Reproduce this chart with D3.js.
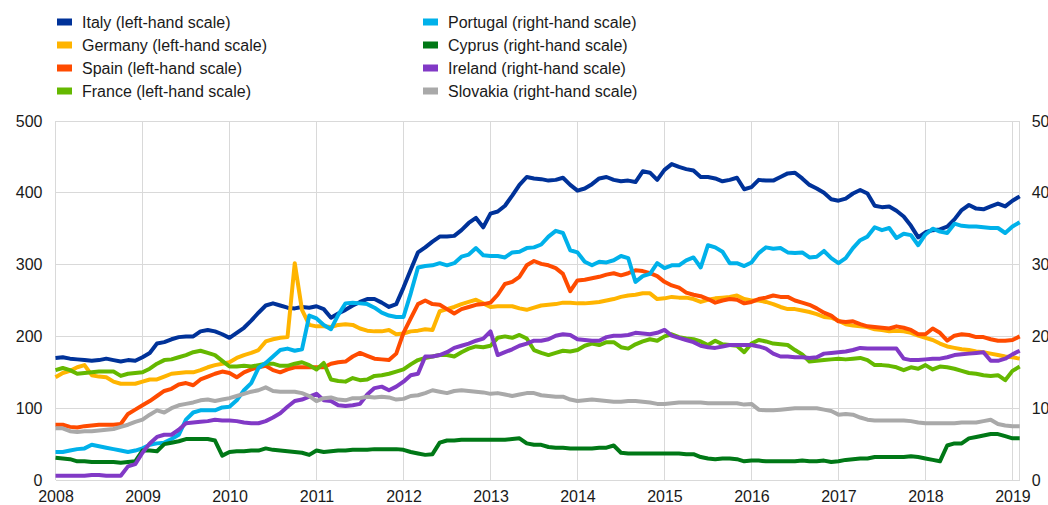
<!DOCTYPE html>
<html>
<head>
<meta charset="utf-8">
<script src="https://cdn.jsdelivr.net/npm/d3@7/dist/d3.min.js"></script>
<style>
  html, body { margin: 0; padding: 0; background: #ffffff; overflow: hidden; }
  svg { display: block; font-family: "Liberation Sans", Arial, sans-serif; }
</style>
</head>
<body>
<svg id="chart" width="1048" height="505"></svg>
<script>
// Monthly observations, January 2008 to February 2019
const startYear = 2008;
const yearTicks = [2008, 2009, 2010, 2011, 2012, 2013, 2014, 2015, 2016, 2017, 2018, 2019];
const leftTicks = [0, 100, 200, 300, 400, 500];
const rightTicks = [0, 10, 20, 30, 40, 50];

// left-hand scale
const italy = [
  170,171,169,168,167,166,167,169,167,165,167,166,
  171,177,190,192,196,199,200,200,207,209,207,203,
  198,205,212,222,233,243,246,243,240,239,241,240,
  242,238,226,232,237,243,248,252,252,247,241,245,
  268,293,317,324,332,339,339,340,348,358,365,352,
  371,374,382,396,411,422,420,419,417,418,421,411,
  403,406,412,420,422,418,416,417,415,430,428,418,
  432,440,436,433,431,422,422,420,416,418,421,405,
  408,418,417,417,422,427,428,420,411,406,400,391,
  389,392,399,404,399,382,380,381,375,367,354,338,
  345,348,349,353,363,376,383,378,377,381,385,381,
  389,395
];
const germany = [
  143,149,152,157,160,146,144,143,137,134,134,134,
  137,140,140,144,148,149,150,150,153,157,160,162,
  164,170,174,177,181,193,196,198,199,302,237,216,
  214,214,213,216,217,216,211,208,207,207,209,203,
  204,207,208,210,209,235,238,241,245,248,251,246,
  241,242,242,242,239,237,240,243,244,245,247,247,
  246,246,247,248,250,252,255,257,258,260,260,252,
  253,255,254,254,252,248,251,253,254,255,257,252,
  250,250,248,245,241,238,238,236,234,231,227,226,
  222,217,215,214,213,210,209,207,208,207,205,201,
  198,195,190,186,184,182,181,179,178,176,174,172,
  171,169
];
const spain = [
  77,77,74,73,75,76,77,77,77,78,92,98,
  104,110,117,124,127,133,135,132,140,144,148,151,
  149,143,150,154,157,159,153,150,154,157,157,157,
  157,157,162,164,165,172,177,173,169,168,167,176,
  205,225,245,250,245,244,238,232,238,241,244,245,
  247,258,273,276,283,299,305,301,299,295,287,263,
  278,279,281,283,286,288,285,288,292,291,288,284,
  276,271,268,261,258,256,252,247,250,252,251,246,
  248,252,254,257,255,255,250,247,244,239,233,229,
  221,220,221,217,214,213,212,211,214,212,209,203,
  203,211,205,194,201,203,202,199,199,196,194,194,
  195,200
];
const france = [
  153,156,153,148,149,150,151,151,151,145,148,149,
  150,155,162,167,168,171,174,178,180,177,174,166,
  158,158,159,158,160,162,162,159,159,162,164,160,
  154,163,140,138,137,142,139,140,145,146,148,151,
  154,161,167,170,172,174,174,172,178,183,186,185,
  187,198,200,198,202,197,181,177,174,177,180,179,
  181,187,190,188,192,192,185,183,189,193,196,194,
  200,203,199,197,196,193,188,194,189,188,187,178,
  190,195,193,190,189,188,181,175,165,166,167,168,
  169,168,169,170,167,160,160,159,157,153,157,155,
  160,154,158,157,155,152,149,148,146,145,146,139,
  152,158
];

// right-hand scale
const portugal = [
  3.9,3.9,4.1,4.3,4.4,4.9,4.7,4.5,4.3,4.1,3.9,4.1,
  4.4,4.9,5.1,5.2,5.7,6.3,8.4,9.4,9.7,9.7,9.7,10.1,
  10.2,11.1,12.5,13.5,15.6,16.3,17.2,18.1,18.3,18.0,18.2,22.9,
  22.5,21.6,21.0,23.0,24.6,24.7,24.6,24.5,24.0,23.3,22.9,22.7,
  22.7,26.0,29.6,29.8,29.9,30.2,29.9,30.2,31.1,31.4,32.3,31.3,
  31.2,31.2,31.0,31.7,31.8,32.3,32.4,32.8,33.9,34.7,34.4,32.0,
  31.7,30.4,29.9,30.4,30.3,30.6,31.2,30.9,27.6,28.4,28.7,30.2,
  29.5,29.9,29.9,30.6,31.0,29.6,32.7,32.4,31.8,30.2,30.2,29.8,
  30.3,31.6,32.4,32.2,32.3,31.7,31.6,31.7,31.0,31.1,31.9,30.9,
  30.2,30.9,32.3,33.4,33.9,35.2,34.8,35.1,33.7,34.3,34.1,32.7,
  34.2,35.0,34.6,34.4,35.7,35.4,35.3,35.3,35.2,35.1,35.1,34.4,
  35.3,35.9
];
const cyprus = [
  3.1,3.0,2.9,2.6,2.6,2.5,2.5,2.5,2.5,2.4,2.5,2.6,
  4.1,4.1,4.0,5.0,5.2,5.4,5.7,5.7,5.7,5.7,5.5,3.4,
  3.9,4.0,4.0,4.1,4.1,4.4,4.2,4.1,4.0,3.9,3.8,3.5,
  4.1,3.9,4.0,4.1,4.1,4.2,4.2,4.2,4.3,4.3,4.3,4.3,
  4.2,3.9,3.7,3.5,3.6,5.2,5.5,5.5,5.6,5.6,5.6,5.6,
  5.6,5.6,5.6,5.7,5.8,5.1,4.9,4.9,4.6,4.5,4.5,4.4,
  4.4,4.4,4.4,4.5,4.5,4.8,3.8,3.7,3.7,3.7,3.7,3.7,
  3.7,3.7,3.7,3.6,3.6,3.2,3.0,2.9,3.0,3.0,2.9,2.6,
  2.7,2.7,2.6,2.6,2.6,2.6,2.6,2.7,2.6,2.6,2.7,2.5,
  2.6,2.8,2.9,3.0,3.0,3.2,3.2,3.2,3.2,3.2,3.3,3.2,
  3.0,2.8,2.6,4.8,5.1,5.1,5.8,6.0,6.2,6.4,6.4,6.1,
  5.8,5.8
];
const ireland = [
  0.6,0.6,0.6,0.6,0.6,0.7,0.7,0.6,0.6,0.6,1.9,2.2,
  3.8,5.1,6.0,6.3,6.3,7.0,7.9,8.0,8.1,8.2,8.4,8.3,
  8.3,8.2,8.0,7.9,7.9,8.2,8.7,9.3,10.2,11.0,11.2,11.6,
  12.0,11.1,11.0,10.4,10.3,10.4,10.6,11.9,12.8,13.0,12.5,13.0,
  13.7,14.6,14.8,17.2,17.2,17.4,17.8,18.4,18.7,19.0,19.4,19.7,
  20.7,17.4,17.8,18.2,18.7,19.0,19.4,19.4,19.6,20.1,20.3,20.2,
  19.6,19.5,19.4,19.4,19.9,20.1,20.1,20.2,20.5,20.4,20.3,20.5,
  20.9,20.1,19.8,19.5,19.2,18.7,18.5,18.4,18.6,18.8,18.8,18.8,
  18.8,18.6,18.3,17.6,17.2,17.2,17.1,17.1,17.0,17.1,17.6,17.7,
  17.8,17.9,18.1,18.4,18.3,18.3,18.3,18.3,18.3,16.9,16.7,16.7,
  16.8,16.9,16.9,17.1,17.4,17.5,17.6,17.7,17.8,16.6,16.6,16.9,
  17.5,18.0
];
const slovakia = [
  7.2,7.2,6.8,6.7,6.8,6.8,6.9,7.0,7.1,7.4,7.7,8.1,
  8.4,9.1,9.7,9.4,10.0,10.4,10.6,10.8,11.1,11.2,11.0,11.2,
  11.4,11.7,12.0,12.3,12.5,12.9,12.4,12.3,12.3,12.3,12.1,11.7,
  11.0,11.4,11.5,11.2,11.1,11.4,11.4,11.6,11.5,11.6,11.5,11.2,
  11.3,11.7,11.8,12.1,12.5,12.3,12.1,12.4,12.5,12.4,12.3,12.2,
  12.0,12.1,11.9,11.7,11.9,12.1,12.1,11.8,11.7,11.6,11.6,11.2,
  11.0,11.1,11.2,11.1,11.0,10.9,10.9,11.0,11.0,10.9,10.8,10.6,
  10.6,10.7,10.8,10.8,10.8,10.8,10.7,10.7,10.7,10.7,10.7,10.5,
  10.6,9.8,9.7,9.7,9.8,9.9,10.0,10.0,10.0,10.0,9.8,9.6,
  9.1,9.2,9.1,8.7,8.4,8.3,8.3,8.3,8.3,8.3,8.2,8.0,
  7.9,7.9,7.9,7.9,7.9,8.0,8.0,8.0,8.2,8.4,7.8,7.6,
  7.5,7.5
];

const series = [
  { name: "Italy (left-hand scale)",      values: italy,    axis: "left",  color: "#003299" },
  { name: "Germany (left-hand scale)",    values: germany,  axis: "left",  color: "#ffb400" },
  { name: "Spain (left-hand scale)",      values: spain,    axis: "left",  color: "#ff4b00" },
  { name: "France (left-hand scale)",     values: france,   axis: "left",  color: "#65b800" },
  { name: "Portugal (right-hand scale)",  values: portugal, axis: "right", color: "#00b1ea" },
  { name: "Cyprus (right-hand scale)",    values: cyprus,   axis: "right", color: "#007816" },
  { name: "Ireland (right-hand scale)",   values: ireland,  axis: "right", color: "#8139c6" },
  { name: "Slovakia (right-hand scale)",  values: slovakia, axis: "right", color: "#a9a9a9" }
];

const svg = d3.select("#chart");
const plot = { left: 55.5, right: 1019.7, top: 121, bottom: 480 };

const x = d3.scaleLinear().domain([startYear, 2019 + 1 / 12]).range([plot.left, plot.right]);
const yLeft = d3.scaleLinear().domain([0, 500]).range([plot.bottom, plot.top]);
const yRight = d3.scaleLinear().domain([0, 50]).range([plot.bottom, plot.top]);

const gridColor = "#d9d9d9";
const textColor = "#1a1a1a";

// gridlines
const grid = svg.append("g").attr("shape-rendering", "crispEdges");
grid.selectAll("line.h").data(leftTicks).join("line")
  .attr("class", "h")
  .attr("x1", plot.left).attr("x2", plot.right)
  .attr("y1", d => yLeft(d)).attr("y2", d => yLeft(d))
  .attr("stroke", gridColor).attr("stroke-width", 1);
grid.selectAll("line.v").data(yearTicks).join("line")
  .attr("class", "v")
  .attr("x1", d => x(d)).attr("x2", d => x(d))
  .attr("y1", plot.top).attr("y2", plot.bottom)
  .attr("stroke", gridColor).attr("stroke-width", 1);
grid.append("line")
  .attr("x1", plot.right).attr("x2", plot.right)
  .attr("y1", plot.top).attr("y2", plot.bottom)
  .attr("stroke", gridColor).attr("stroke-width", 1);

// axes (labels only, lines come from the grid)
const styleAxis = g => {
  g.select(".domain").remove();
  g.selectAll(".tick line").remove();
  g.selectAll(".tick text")
    .attr("fill", textColor)
    .style("font-size", "16px")
    .style("font-family", "'Liberation Sans', Arial, sans-serif");
};

svg.append("g")
  .attr("transform", `translate(${plot.left},0)`)
  .call(d3.axisLeft(yLeft).tickValues(leftTicks).tickFormat(d3.format("d")).tickSize(0).tickPadding(13))
  .call(styleAxis);

svg.append("g")
  .attr("transform", `translate(${plot.right},0)`)
  .call(d3.axisRight(yRight).tickValues(rightTicks).tickFormat(d3.format("d")).tickSize(0).tickPadding(12))
  .call(styleAxis);

svg.append("g")
  .attr("transform", `translate(0,${plot.bottom})`)
  .call(d3.axisBottom(x).tickValues(yearTicks).tickFormat(d3.format("d")).tickSize(0).tickPadding(11))
  .call(styleAxis);

// lines
const dateOf = i => startYear + i / 12;
const lines = svg.append("g");
series.forEach(s => {
  const yScale = s.axis === "left" ? yLeft : yRight;
  const line = d3.line()
    .x((d, i) => x(dateOf(i)))
    .y(d => yScale(d));
  lines.append("path")
    .datum(s.values)
    .attr("d", line)
    .attr("fill", "none")
    .attr("stroke", s.color)
    .attr("stroke-width", 4)
    .attr("stroke-linejoin", "round")
    .attr("stroke-linecap", "butt");
});

// legend: two columns of four
const legend = svg.append("g");
const colX = [57, 423];
const rowY = [22, 45, 68, 91];
series.forEach((s, i) => {
  const cx = colX[Math.floor(i / 4)];
  const cy = rowY[i % 4];
  legend.append("rect")
    .attr("x", cx).attr("y", cy - 3.5)
    .attr("width", 15).attr("height", 7)
    .attr("fill", s.color);
  legend.append("text")
    .attr("x", cx + 25).attr("y", cy)
    .attr("dy", "0.35em")
    .attr("fill", textColor)
    .style("font-size", "16px")
    .text(s.name);
});
</script>
</body>
</html>
